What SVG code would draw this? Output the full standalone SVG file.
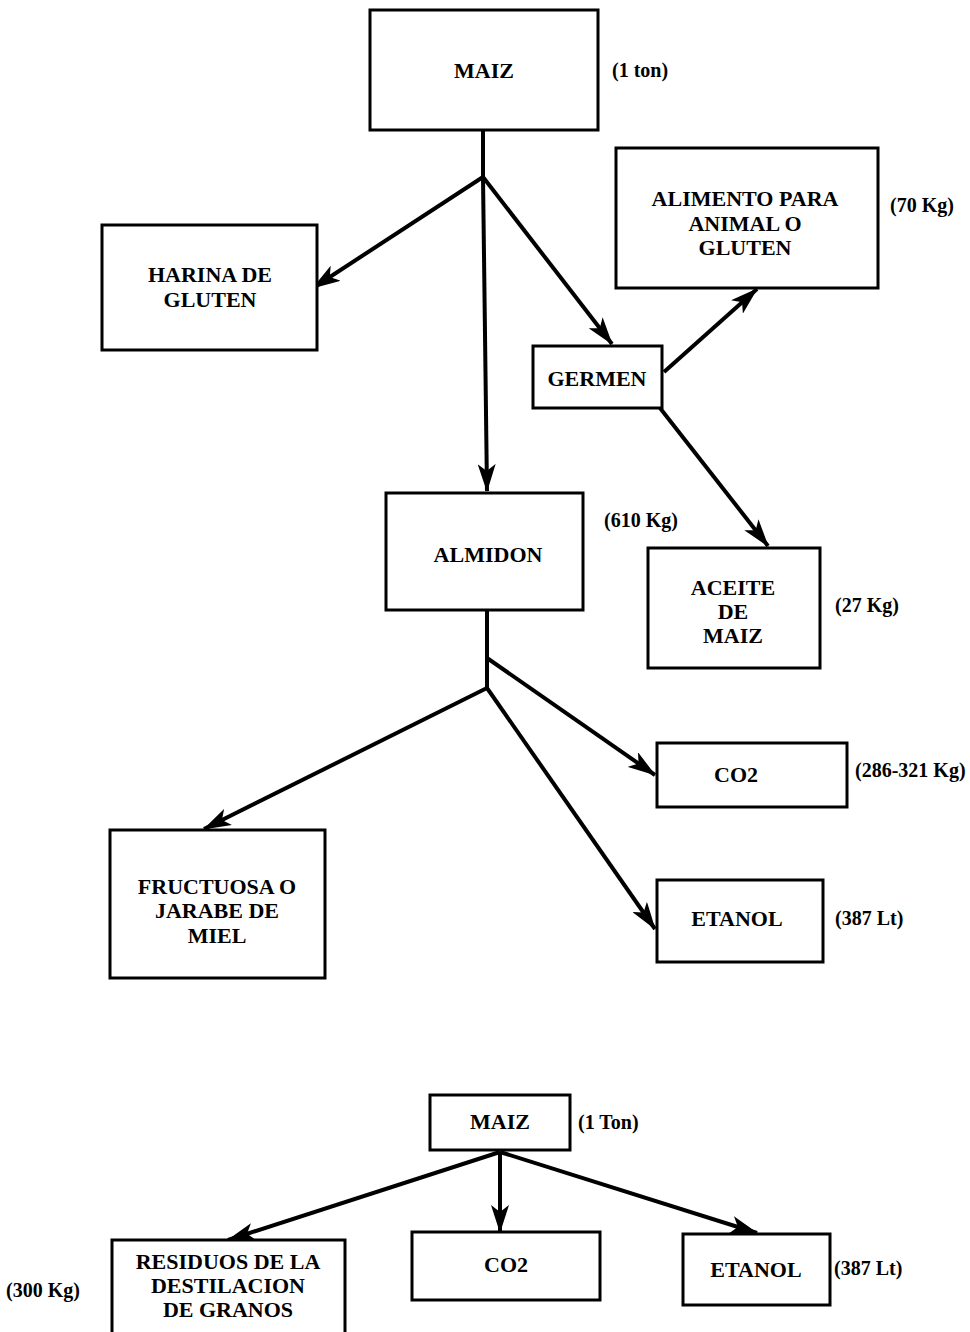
<svg xmlns="http://www.w3.org/2000/svg" width="970" height="1332" viewBox="0 0 970 1332">
<defs>
<marker id="ah" viewBox="0 0 28 18" refX="27" refY="9" markerWidth="28" markerHeight="18" markerUnits="userSpaceOnUse" orient="auto">
<path d="M0,0 L28,9 L0,18 L7,9 Z" fill="#000"/>
</marker>
<style>
rect{fill:#fff;stroke:#000;stroke-width:3}
text{font-family:"Liberation Serif","Times New Roman",serif;font-weight:bold;fill:#000}
.t{font-size:22px;text-anchor:middle}
.q{font-size:20px}
.c line{stroke:#000;stroke-width:4;fill:none}
.c .a{marker-end:url(#ah)}
</style>
</defs>
<rect width="970" height="1332" style="fill:#fff;stroke:none"/>
<g class="c" id="connectors">
<line x1="483" y1="130" x2="483" y2="177"/>
<line class="a" x1="483" y1="177" x2="487" y2="491"/>
<line class="a" x1="483" y1="177" x2="313" y2="288"/>
<line class="a" x1="483" y1="177" x2="612" y2="344"/>
<line class="a" x1="664" y1="372" x2="757" y2="289"/>
<line class="a" x1="660" y1="408" x2="768" y2="546"/>
<line x1="487" y1="610" x2="487" y2="688"/>
<line class="a" x1="487" y1="658" x2="655" y2="775"/>
<line class="a" x1="487" y1="688" x2="204" y2="829"/>
<line class="a" x1="487" y1="688" x2="655" y2="929"/>
<line class="a" x1="500" y1="1152" x2="228" y2="1240"/>
<line class="a" x1="500" y1="1152" x2="500" y2="1232"/>
<line class="a" x1="500" y1="1152" x2="757" y2="1233"/>
</g>
<g id="maiz1"><rect x="370" y="10" width="228" height="120"/><text class="t" x="484" y="78">MAIZ</text><text class="q" x="612" y="77">(1 ton)</text></g>
<g id="harina"><rect x="102" y="225" width="215" height="125"/><text class="t" x="210" y="282">HARINA DE</text><text class="t" x="210" y="307">GLUTEN</text></g>
<g id="alimento"><rect x="616" y="148" width="262" height="140"/><text class="t" x="745" y="206">ALIMENTO PARA</text><text class="t" x="745" y="231">ANIMAL O</text><text class="t" x="745" y="255">GLUTEN</text><text class="q" x="890" y="212">(70 Kg)</text></g>
<g id="germen"><rect x="533" y="346" width="129" height="62"/><text class="t" x="597" y="386">GERMEN</text></g>
<g id="almidon"><rect x="386" y="493" width="197" height="117"/><text class="t" x="488" y="562">ALMIDON</text><text class="q" x="604" y="527">(610 Kg)</text></g>
<g id="aceite"><rect x="648" y="548" width="172" height="120"/><text class="t" x="733" y="595">ACEITE</text><text class="t" x="733" y="619">DE</text><text class="t" x="733" y="643">MAIZ</text><text class="q" x="835" y="612">(27 Kg)</text></g>
<g id="co2a"><rect x="657" y="743" width="190" height="64"/><text class="t" x="736" y="782">CO2</text><text class="q" x="855" y="777">(286-321 Kg)</text></g>
<g id="fructuosa"><rect x="110" y="830" width="215" height="148"/><text class="t" x="217" y="894">FRUCTUOSA O</text><text class="t" x="217" y="918">JARABE DE</text><text class="t" x="217" y="943">MIEL</text></g>
<g id="etanol1"><rect x="657" y="880" width="166" height="82"/><text class="t" x="737" y="926">ETANOL</text><text class="q" x="835" y="925">(387 Lt)</text></g>
<g id="maiz2"><rect x="430" y="1095" width="140" height="55"/><text class="t" x="500" y="1129">MAIZ</text><text class="q" x="578" y="1129">(1 Ton)</text></g>
<g id="residuos"><rect x="112" y="1240" width="233" height="95"/><text class="t" x="228" y="1269">RESIDUOS DE LA</text><text class="t" x="228" y="1293">DESTILACION</text><text class="t" x="228" y="1317">DE GRANOS</text><text class="q" x="6" y="1297">(300 Kg)</text></g>
<g id="co2b"><rect x="412" y="1232" width="188" height="68"/><text class="t" x="506" y="1272">CO2</text></g>
<g id="etanol2"><rect x="683" y="1234" width="147" height="71"/><text class="t" x="756" y="1277">ETANOL</text><text class="q" x="834" y="1275">(387 Lt)</text></g>
</svg>
